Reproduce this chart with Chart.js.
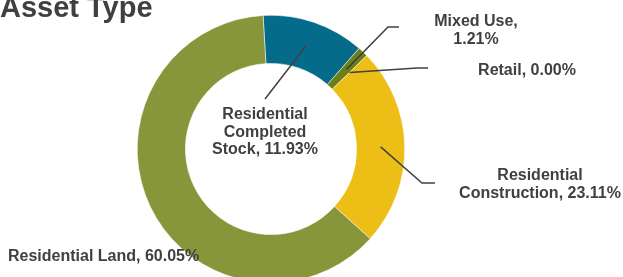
<!DOCTYPE html>
<html>
<head>
<meta charset="utf-8">
<script src="https://cdn.jsdelivr.net/npm/chart.js@4"></script>
<style>
    html, body { margin: 0; padding: 0; background: #ffffff; overflow: hidden; }
    #wrap { width: 623px; height: 277px; overflow: hidden; position: relative; }
    canvas { display: block; }
</style>
</head>
<body>
<div id="wrap"><canvas id="assetChart" width="623" height="300"></canvas></div>
<script>
// Asset type split (share of lending, %)
var categories = ['Residential Completed Stock', 'Mixed Use', 'Retail', 'Residential Construction', 'Residential Land'];
var shares = [11.93, 1.21, 0.00, 23.11, 60.05];
var sliceColors = ['#046C8A', '#6B8019', '#A5A5A5', '#ECBE16', '#87963A'];

var titleText = 'Asset Type';
var textColor = '#404040';
var labelFont = 'bold 16px "Liberation Sans", Arial, sans-serif';

// where each data label sits, how it wraps and how its leader line bends
var labelPlacement = [
    { x: 265, y: 119, align: 'center', breaks: [1, 1, 2], lineEnd: [265, 99] },
    { x: 476, y: 26, align: 'center', breaks: [2, 1], elbow: [388, 27], lineEnd: [399, 27] },
    { x: 527, y: 75, align: 'center', breaks: [3], elbow: [417, 68], lineEnd: [428, 68] },
    { x: 540, y: 180, align: 'center', breaks: [1, 2], elbow: [422, 183], lineEnd: [435, 183] },
    { x: 8, y: 261, align: 'left', breaks: [4] }
];
var lineHeight = 17.5;

function labelLines(i) {
    var words = (categories[i] + ', ' + shares[i].toFixed(2) + '%').split(' ');
    var out = [], k = 0;
    labelPlacement[i].breaks.forEach(function (n) {
        out.push(words.slice(k, k + n).join(' '));
        k += n;
    });
    return out;
}

var calloutPlugin = {
    id: 'callouts',
    afterDraw: function (chart) {
        var ctx = chart.ctx;
        var arcs = chart.getDatasetMeta(0).data;
        ctx.save();

        // leader lines from the middle of the ring
        ctx.strokeStyle = textColor;
        ctx.lineWidth = 1.5;
        arcs.forEach(function (arc, i) {
            var p = labelPlacement[i];
            if (!p.lineEnd) return;
            var mid = (arc.startAngle + arc.endAngle) / 2;
            var r = (arc.innerRadius + arc.outerRadius) / 2;
            ctx.beginPath();
            ctx.moveTo(arc.x + Math.cos(mid) * r, arc.y + Math.sin(mid) * r);
            if (p.elbow) ctx.lineTo(p.elbow[0], p.elbow[1]);
            ctx.lineTo(p.lineEnd[0], p.lineEnd[1]);
            ctx.stroke();
        });

        // labels
        ctx.fillStyle = textColor;
        ctx.font = labelFont;
        ctx.textBaseline = 'alphabetic';
        categories.forEach(function (c, i) {
            var p = labelPlacement[i];
            ctx.textAlign = p.align;
            labelLines(i).forEach(function (line, j) {
                ctx.fillText(line, p.x, p.y + j * lineHeight);
            });
        });

        // title, partly cut at the top like the source
        ctx.font = 'bold 29px "Liberation Sans", Arial, sans-serif';
        ctx.textAlign = 'left';
        ctx.fillText(titleText, 0, 17);
        ctx.restore();
    }
};

var ctxAsset = document.getElementById('assetChart').getContext('2d');
var assetChart = new Chart(ctxAsset, {
    type: 'doughnut',
    data: {
        labels: categories,
        datasets: [{
            data: shares,
            backgroundColor: sliceColors,
            borderColor: '#ffffff',
            borderWidth: 0.5
        }]
    },
    options: {
        responsive: false,
        animation: false,
        devicePixelRatio: 1,
        cutout: '64%',
        rotation: -3.4,
        layout: { padding: { left: 137, right: 218, top: 15, bottom: 17 } },
        plugins: {
            legend: { display: false },
            tooltip: { enabled: false }
        }
    },
    plugins: [calloutPlugin]
});
</script>
</body>
</html>
